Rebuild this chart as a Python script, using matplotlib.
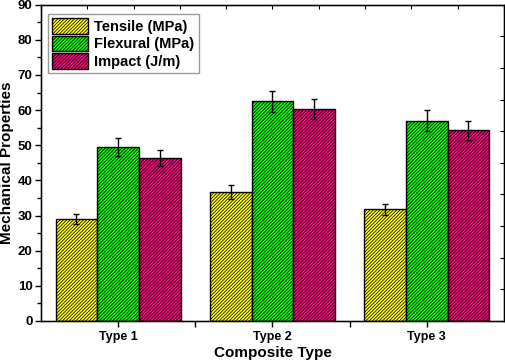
import numpy as np
import matplotlib.pyplot as plt

plt.rcParams['font.family'] = ['Liberation Sans', 'DejaVu Sans']
plt.rcParams['font.weight'] = 'bold'
plt.rcParams['hatch.linewidth'] = 0.55

categories = ["Type 1", "Type 2", "Type 3"]
series = ["Tensile (MPa)", "Flexural (MPa)", "Impact (J/m)"]
tensile = [29.1, 36.7, 31.8]
tensile_err = [1.4, 1.9, 1.6]
flexural = [49.6, 62.5, 57.0]
flexural_err = [2.6, 3.0, 3.0]
impact = [46.4, 60.3, 54.2]
impact_err = [2.3, 2.9, 2.8]
colors = ["#FFFF00", "#00FF00", "#FF0080"]

values = [tensile, flexural, impact]
errors = [tensile_err, flexural_err, impact_err]

fig = plt.figure(figsize=(5.05, 3.63), dpi=100)
ax = fig.add_axes([0.081, 0.116, 0.917, 0.871])

x = np.arange(1, len(categories) + 1)
w = 0.27
for i, (vals, errs) in enumerate(zip(values, errors)):
    ax.bar(x + (i - 1) * w, vals, w, color=colors[i], edgecolor='black',
           linewidth=1.0, hatch='/' * 10, label=series[i],
           yerr=errs, capsize=2.5, error_kw=dict(elinewidth=1.0, capthick=1.0, ecolor='black'))

ax.set_xlim(0.5, 3.5)
ax.set_ylim(0, 90)
ax.set_xticks(x)
ax.set_xticklabels(categories, fontsize=9, fontweight='bold')
ax.set_xticks([1.5, 2.5], minor=True)
ax.set_yticks(np.arange(0, 91, 10))
ax.set_yticks(np.arange(5, 90, 10), minor=True)
ax.tick_params(axis='y', labelsize=9.5, pad=2)
ax.tick_params(which='major', direction='out', length=4, width=1)
ax.tick_params(which='minor', direction='out', length=3, width=1)
ax.tick_params(axis='x', which='minor', length=4)
for s in ax.spines.values():
    s.set_linewidth(1.0)

ax.set_xlabel("Composite Type", fontsize=11, fontweight='bold', labelpad=2)
ax.set_ylabel("Mechanical Properties", fontsize=11, fontweight='bold', labelpad=3)

# inward ticks on top and right frame
top = ax.twiny()
top.set_xlim(0, 1)
top.set_xticks(np.arange(0, 1.01, 0.1))
top.tick_params(axis='x', direction='in', length=3, labeltop=False)
right = ax.twinx()
right.set_ylim(0, 1)
right.set_yticks(np.arange(0, 1.01, 0.1))
right.tick_params(axis='y', direction='in', length=3, labelright=False)

leg = ax.legend(loc='upper left', bbox_to_anchor=(0.005, 0.985),
                prop={'weight': 'bold', 'size': 10.5}, fancybox=False,
                edgecolor='#808080', handlelength=2.5, handleheight=1.3,
                handletextpad=0.4, labelspacing=0.1, borderpad=0.3,
                borderaxespad=0.3)
leg.get_frame().set_linewidth(1.0)
leg.set_zorder(5)

fig.savefig("out.png", dpi=100)
